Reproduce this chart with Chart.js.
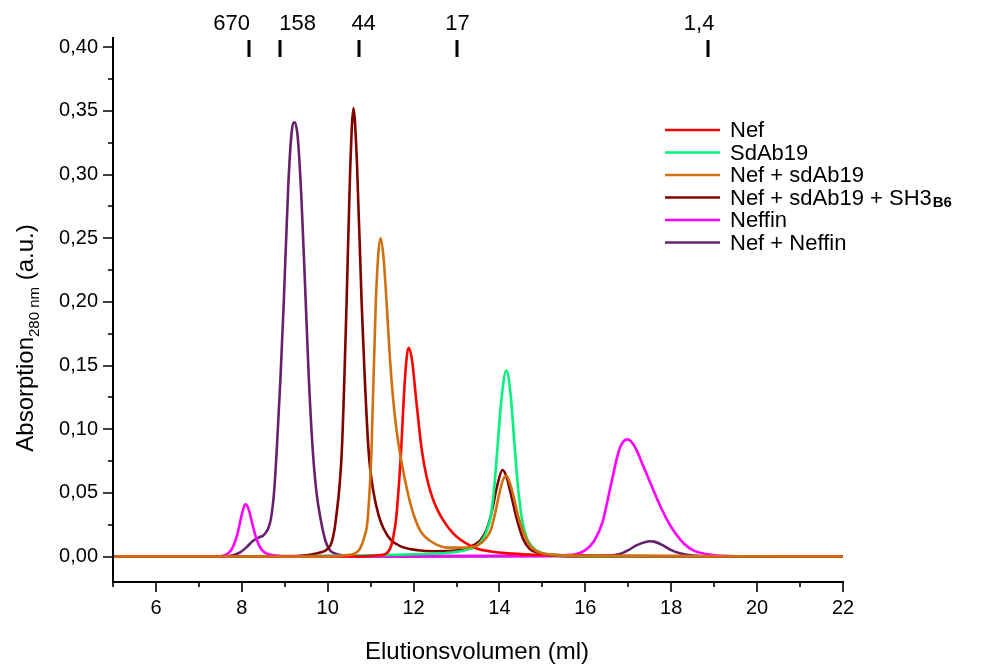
<!DOCTYPE html>
<html>
<head>
<meta charset="utf-8">
<script src="https://cdn.jsdelivr.net/npm/chart.js@4.4.1/dist/chart.umd.min.js"></script>
<style>
  html, body { margin: 0; padding: 0; background: #fff; }
  #wrap { width: 995px; height: 664px; }
</style>
</head>
<body>
<div id="wrap"><canvas id="c" width="995" height="664"></canvas></div>
<script>
// ---------- data (elution volume in ml, absorbance) ----------
const nef = [[5,0],[10.5,0],[11.2,0.001],[11.35,0.002],[11.45,0.006],[11.52,0.014],[11.6,0.032],[11.7,0.078],[11.8,0.14],[11.88,0.164],[11.96,0.155],[12.07,0.12],[12.19,0.084],[12.3,0.063],[12.42,0.048],[12.55,0.037],[12.7,0.028],[12.9,0.019],[13.1,0.013],[13.3,0.009],[13.5,0.006],[13.8,0.004],[14.2,0.0025],[14.7,0.0016],[15.5,0.001],[16.5,0.0005],[22,0]];
const sdAb19 = [[5,0],[9,0],[10,0.0005],[11,0.001],[12,0.0018],[12.8,0.003],[13.2,0.005],[13.45,0.008],[13.6,0.013],[13.7,0.02],[13.8,0.032],[13.88,0.055],[13.95,0.084],[14.05,0.125],[14.16,0.146],[14.26,0.127],[14.35,0.088],[14.43,0.055],[14.52,0.03],[14.62,0.016],[14.75,0.008],[14.9,0.004],[15.1,0.002],[15.4,0.001],[16,0.0003],[22,0]];
const nefSdAb19 = [[5,0],[10,0],[10.4,0.001],[10.6,0.002],[10.75,0.006],[10.85,0.015],[10.93,0.029],[11.02,0.084],[11.12,0.2],[11.23,0.25],[11.3,0.235],[11.37,0.2],[11.45,0.155],[11.52,0.125],[11.6,0.1],[11.7,0.078],[11.8,0.06],[11.9,0.045],[12.0,0.033],[12.16,0.02],[12.4,0.012],[12.8,0.007],[13.2,0.007],[13.5,0.009],[13.7,0.015],[13.8,0.021],[13.9,0.034],[13.98,0.047],[14.08,0.06],[14.16,0.0635],[14.25,0.057],[14.33,0.047],[14.45,0.03],[14.56,0.019],[14.7,0.009],[14.88,0.004],[15.2,0.0015],[16,0.0005],[22,0]];
const nefSdAb19SH3 = [[5,0],[9,0],[9.5,0.001],[9.8,0.003],[10.0,0.006],[10.1,0.012],[10.19,0.029],[10.33,0.084],[10.44,0.2],[10.52,0.3],[10.6,0.352],[10.68,0.31],[10.79,0.2],[10.95,0.084],[11.07,0.05],[11.19,0.032],[11.3,0.022],[11.47,0.013],[11.7,0.008],[12.1,0.005],[12.5,0.0042],[12.9,0.0045],[13.2,0.006],[13.4,0.009],[13.56,0.013],[13.7,0.021],[13.8,0.032],[13.95,0.056],[14.07,0.068],[14.16,0.063],[14.26,0.05],[14.4,0.03],[14.55,0.014],[14.7,0.006],[14.9,0.003],[15.2,0.001],[16,0],[22,0]];
const neffin = [[5,0],[7.4,0],[7.6,0.001],[7.7,0.003],[7.8,0.008],[7.9,0.018],[8.0,0.033],[8.08,0.041],[8.15,0.038],[8.25,0.025],[8.35,0.013],[8.45,0.006],[8.6,0.002],[8.8,0.0008],[9.0,0.0003],[15.0,0.0005],[15.5,0.001],[15.8,0.002],[16.0,0.005],[16.2,0.012],[16.4,0.027],[16.6,0.057],[16.8,0.085],[16.98,0.092],[17.1,0.089],[17.2,0.083],[17.35,0.071],[17.5,0.059],[17.7,0.043],[17.9,0.029],[18.1,0.018],[18.3,0.01],[18.5,0.005],[18.8,0.002],[19.2,0.0005],[20,0],[22,0]];
const nefNeffin = [[5,0],[7.5,0],[7.8,0.001],[7.95,0.003],[8.1,0.007],[8.25,0.012],[8.4,0.015],[8.5,0.0165],[8.6,0.021],[8.674,0.029],[8.75,0.05],[8.814,0.084],[8.9,0.14],[8.977,0.2],[9.08,0.29],[9.16,0.333],[9.23,0.341],[9.3,0.33],[9.39,0.28],[9.488,0.2],[9.56,0.14],[9.651,0.084],[9.74,0.05],[9.837,0.029],[9.95,0.012],[10.05,0.005],[10.2,0.002],[10.5,0.0005],[11,0],[16.5,0.0005],[16.8,0.002],[17.0,0.005],[17.2,0.009],[17.4,0.0115],[17.5,0.012],[17.6,0.0117],[17.8,0.009],[18.0,0.005],[18.2,0.0025],[18.5,0.0008],[19,0],[22,0]];

const seriesNames = ['Nef', 'SdAb19', 'Nef + sdAb19', 'Nef + sdAb19 + SH3', 'Neffin', 'Nef + Neffin'];
const seriesSubs  = ['', '', '', 'B6', '', ''];
const seriesColors = ['#FF0000', '#00F27C', '#D0700F', '#800000', '#FF00FF', '#66206E'];
const seriesData = [nef, sdAb19, nefSdAb19, nefSdAb19SH3, neffin, nefNeffin];

// molecular-weight markers (kDa) on top
const markerPos = [8.16, 8.88, 10.72, 13.02, 18.86];
const markerLabels = ['670', '158', '44', '17', '1,4'];

const xLabel = 'Elutionsvolumen (ml)';
const yLabelMain = 'Absorption';
const yLabelSub = '280 nm';
const yLabelTail = ' (a.u.)';

const FONT = '"Liberation Sans", Arial, Helvetica, sans-serif';

// ---------- custom drawing ----------
const decor = {
  id: 'decor',
  afterDraw(chart, args, o) {
    const {ctx, chartArea: a, scales: {x, y}} = chart;
    ctx.save();
    ctx.strokeStyle = '#000';
    ctx.fillStyle = '#000';
    // axis lines
    ctx.lineWidth = 2;
    ctx.beginPath();
    ctx.moveTo(a.left, a.top);
    ctx.lineTo(a.left, a.bottom);
    ctx.lineTo(a.right + 1, a.bottom);
    ctx.stroke();
    // ticks
    const xt = x.ticks.map(t => t.value);
    const yt = y.ticks.map(t => t.value);
    const xMinor = [xt[0] - (xt[1] - xt[0]) / 2].concat(xt.slice(1).map((v, i) => (v + xt[i]) / 2));
    const yMinor = yt.slice(1).map((v, i) => (v + yt[i]) / 2);
    ctx.lineWidth = 1.6;
    ctx.beginPath();
    xt.forEach(v => { const p = Math.round(x.getPixelForValue(v)); ctx.moveTo(p, a.bottom); ctx.lineTo(p, a.bottom + o.major); });
    xMinor.forEach(v => { const p = Math.round(x.getPixelForValue(v)); ctx.moveTo(p, a.bottom); ctx.lineTo(p, a.bottom + o.minor); });
    yt.forEach(v => { const p = Math.round(y.getPixelForValue(v)); ctx.moveTo(a.left, p); ctx.lineTo(a.left - o.major, p); });
    yMinor.forEach(v => { const p = Math.round(y.getPixelForValue(v)); ctx.moveTo(a.left, p); ctx.lineTo(a.left - o.minor, p); });
    ctx.stroke();

    // top markers
    ctx.lineWidth = 3;
    ctx.beginPath();
    markerPos.forEach(v => { const p = Math.round(x.getPixelForValue(v)); ctx.moveTo(p, o.markTop); ctx.lineTo(p, o.markBottom); });
    ctx.stroke();
    ctx.font = '22px ' + FONT;
    ctx.textAlign = 'center';
    ctx.textBaseline = 'alphabetic';
    markerLabels.forEach((t, i) => {
      const p = x.getPixelForValue(markerPos[i]) + o.labelShift[i];
      ctx.fillText(t, p, o.markLabelY);
    });

    // x axis title
    ctx.font = '24px ' + FONT;
    ctx.textAlign = 'center';
    ctx.fillText(xLabel, (a.left + a.right) / 2 - 1, o.xTitleY);

    // y axis title with subscript
    ctx.save();
    ctx.translate(o.yTitleX, o.yTitleCenter);
    ctx.rotate(-Math.PI / 2);
    const fMain = '24px ' + FONT, fSub = '15px ' + FONT;
    ctx.font = fMain; const w1 = ctx.measureText(yLabelMain).width; const w3 = ctx.measureText(yLabelTail).width;
    ctx.font = fSub; const w2 = ctx.measureText(yLabelSub).width;
    let sx = -(w1 + w2 + w3) / 2;
    ctx.textAlign = 'left';
    ctx.font = fMain; ctx.fillText(yLabelMain, sx, 0); sx += w1;
    ctx.font = fSub; ctx.fillText(yLabelSub, sx, 6); sx += w2;
    ctx.font = fMain; ctx.fillText(yLabelTail, sx, 0);
    ctx.restore();

    // legend
    seriesNames.forEach((name, i) => {
      const cy = o.legTop + i * o.legGap;
      ctx.strokeStyle = seriesColors[i];
      ctx.lineWidth = 2.5;
      ctx.beginPath();
      ctx.moveTo(o.legX, cy); ctx.lineTo(o.legX + o.legLen, cy);
      ctx.stroke();
      ctx.fillStyle = '#000';
      ctx.textAlign = 'left';
      ctx.textBaseline = 'middle';
      ctx.font = '22px ' + FONT;
      const tx = o.legX + o.legLen + 10;
      ctx.fillText(name, tx, cy + 1);
      if (seriesSubs[i]) {
        const w = ctx.measureText(name).width;
        ctx.font = 'bold 15px ' + FONT;
        ctx.fillText(seriesSubs[i], tx + w + 1, cy + 5);
      }
    });
    ctx.restore();
  }
};

const datasets = seriesData.map((d, i) => ({
  label: seriesNames[i] + seriesSubs[i],
  data: d.map(p => ({x: p[0], y: p[1]})),
  borderColor: seriesColors[i],
  backgroundColor: seriesColors[i],
  borderWidth: 2.6,
  pointRadius: 0,
  fill: false,
  cubicInterpolationMode: 'monotone',
  order: i === 2 ? -1 : 0
}));

new Chart(document.getElementById('c'), {
  type: 'line',
  data: { datasets },
  options: {
    responsive: false,
    animation: false,
    devicePixelRatio: 1,
    layout: { padding: { left: 0, right: 152, top: 37, bottom: 0 } },
    plugins: {
      legend: { display: false },
      tooltip: { enabled: false },
      decor: {
        major: 10, minor: 5,
        markTop: 40, markBottom: 57, markLabelY: 30,
        labelShift: [-17, 18, 5, 0, -9],
        xTitleY: 659, yTitleX: 33, yTitleCenter: 338,
        legX: 665, legLen: 55, legTop: 130, legGap: 22.5
      }
    },
    scales: {
      x: {
        type: 'linear', min: 5, max: 22,
        grid: { display: false, drawTicks: false },
        border: { display: false },
        ticks: { stepSize: 2, includeBounds: false, color: '#000', font: { family: FONT, size: 20 }, padding: 14, maxRotation: 0, autoSkip: false },
        afterFit: s => { s.height = 82; }
      },
      y: {
        type: 'linear', min: -0.02, max: 0.408,
        grid: { display: false, drawTicks: false },
        border: { display: false },
        ticks: { stepSize: 0.05, includeBounds: false, color: '#000', font: { family: FONT, size: 20 }, padding: 15,
                 callback: v => v.toFixed(2).replace('.', ',') },
        afterFit: s => { s.width = 113; }
      }
    }
  },
  plugins: [decor]
});
</script>
</body>
</html>
